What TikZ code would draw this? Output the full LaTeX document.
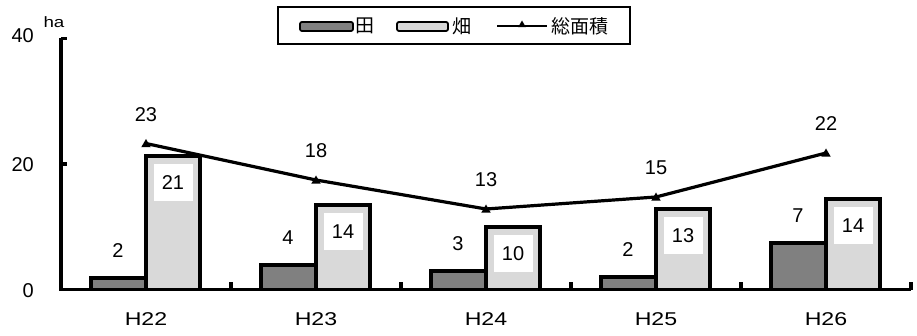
\documentclass[tikz,border=0pt]{standalone}
\usepackage{fontspec}
\setmainfont{Liberation Sans}
\newfontfamily\jpfont{Noto Sans CJK JP}
\newfontfamily\catfont[FakeStretch=1.25]{Liberation Sans}
\usetikzlibrary{shapes.geometric}
\definecolor{darkfill}{HTML}{808080}
\definecolor{lightfill}{HTML}{D9D9D9}
\tikzset{
  darkbar/.style={draw=black, fill=darkfill, line width=3.2pt},
  lightbar/.style={draw=black, fill=lightfill, line width=3.2pt},
  axisline/.style={line width=3.2pt},
  dataline/.style={line width=3.2pt},
  val/.style={font=\fontsize{20}{22}\selectfont, inner sep=0pt},
  whitebox/.style={fill=white, minimum width=39pt, minimum height=37pt, inner sep=0pt, font=\fontsize{20}{22}\selectfont},
  catlabel/.style={font=\catfont\fontsize{18.5}{22}\selectfont, inner sep=0pt},
  marker/.style={regular polygon, regular polygon sides=3, fill=black, inner sep=0pt, minimum size=11pt},
  jp/.style={font=\jpfont\fontsize{19}{22}\selectfont, inner sep=0pt},
}
\begin{document}
\begin{tikzpicture}[x=1pt, y=-1pt]
\useasboundingbox (0,0) rectangle (917,336);
% bars and labels
\foreach \i/\c/\d/\l/\t/\dv/\lv/\tv/\nm in {
  1/146/278/156/143.5/2/21/23/H22,
  2/316/265/205/180/4/14/18/H23,
  3/486/271/227/209/3/10/13/H24,
  4/656/277/209/197/2/13/15/H25,
  5/826/243/199/153/7/14/22/H26}{
  \draw[darkbar] (\c-55,289.5) rectangle (\c,\d);
  \draw[lightbar] (\c,289.5) rectangle (\c+54,\l);
  \node[whitebox, anchor=north] (b\i) at (\c+27,\l+7.5) {\lv};
  \node[val] (d\i) at (\c-28,\d-27) {\dv};
  \coordinate (p\i) at (\c,\t);
  \node[val] (t\i) at (\c,\t-29) {\tv};
  \node[catlabel] (c\i) at (\c,319) {\nm};
}
% axes
\coordinate (ytop) at (61,38.5);
\coordinate (orig) at (61,289.5);
\coordinate (xend) at (911,289.5);
\draw[axisline] (ytop) -- (orig) -- (xend);
\draw[axisline] (ytop) -- ++(6,0);
\draw[axisline] (61,164) -- ++(6,0);
\foreach \x in {231,401,571,741,911}{
  \draw[axisline] (\x,289.5) -- ++(0,-7);
}
\node[val, anchor=east] (y40) at (34,36) {40};
\node[val, anchor=east] (y20) at (34,165) {20};
\node[val, anchor=east] (y0) at (34,291) {0};
\node[font=\catfont\fontsize{15}{18}\selectfont, inner sep=0pt] (ha) at (54,22) {ha};
% data line
\draw[dataline] (p1) -- (p2) -- (p3) -- (p4) -- (p5);
\foreach \i in {1,...,5}{
  \node[marker] (m\i) at ([yshift=-1pt]p\i) {};
}
% legend
\node[draw, line width=2.6pt, minimum width=352pt, minimum height=37pt, inner sep=0pt] (legend) at (454,25.5) {};
\draw[darkfill, line width=9pt, line cap=round] (304.5,26.5) -- (348.5,26.5);
\draw[black, line width=1.8pt, rounded corners=2pt] (300,22) rectangle (353,31);
\node[jp] (lt1) at (365,26) {田};
\draw[lightfill, line width=9pt, line cap=round] (401.5,26.5) -- (443.5,26.5);
\draw[black, line width=1.8pt, rounded corners=2pt] (397,22) rectangle (448,31);
\node[jp] (lt2) at (462,26) {畑};
\coordinate (la) at (497,26);
\coordinate (lb) at (547,26);
\draw[line width=2.4pt] (la) -- (lb);
\node[marker, minimum size=9pt] (lm) at (522,25) {};
\node[jp] (lt3) at (580,26) {総面積};
\end{tikzpicture}
\end{document}
